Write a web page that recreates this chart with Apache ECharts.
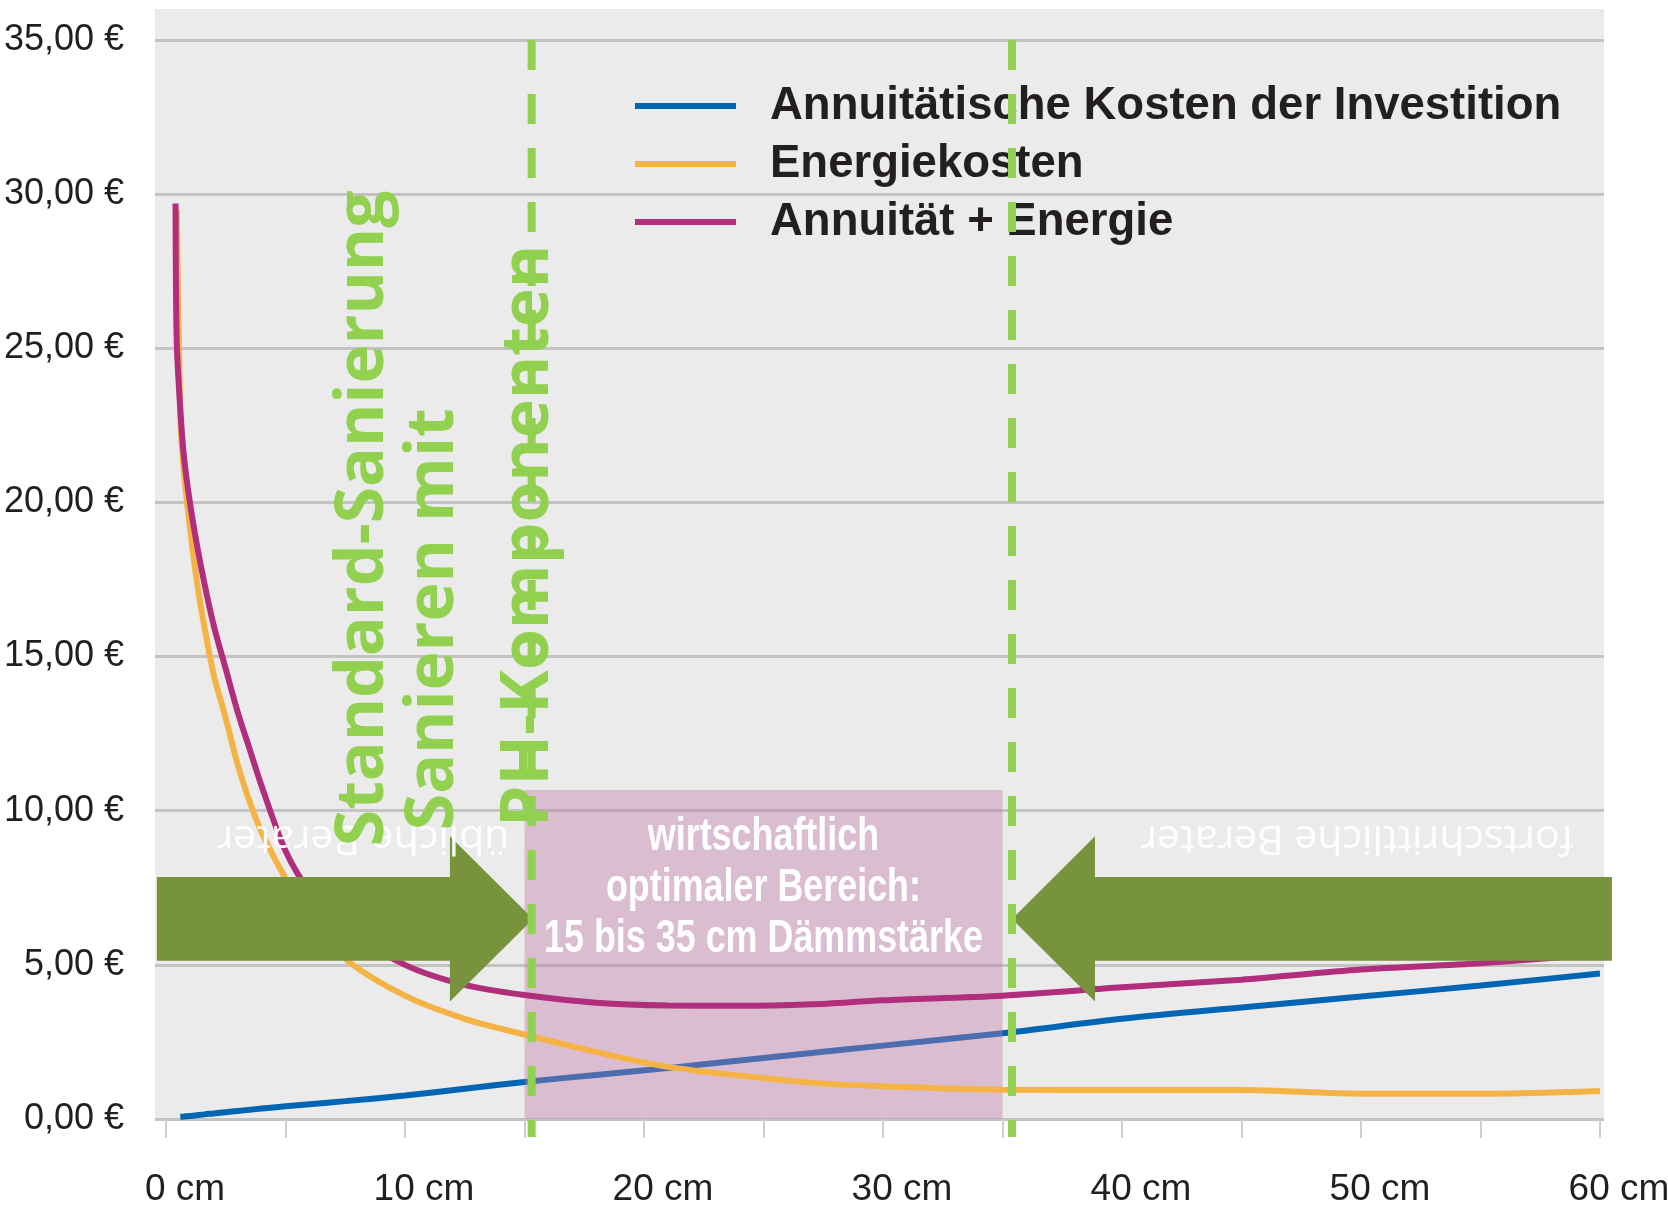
<!DOCTYPE html>
<html>
<head>
<meta charset="utf-8">
<title>Dämmstärke und Kosten</title>
<script src="https://cdn.jsdelivr.net/npm/echarts@6/dist/echarts.min.js"></script>
<style>
  html, body { margin: 0; padding: 0; background: #ffffff; }
  #chart { width: 1668px; height: 1211px; }
</style>
</head>
<body>
<div id="chart"></div>
<script>
// Dämmstärke in cm
var thickness = [0.4, 0.45, 0.6, 0.75, 1, 1.3, 1.6, 2, 2.5, 3, 3.5, 4, 5, 6, 7.5, 10, 12.5, 15, 18, 21, 24, 27, 30, 35, 40, 45, 50, 55, 60];
// Kosten in € (gelesen aus der Vorlage)
var annuitaet = [null, null, 0.07, 0.08, 0.1, 0.12, 0.15, 0.18, 0.22, 0.26, 0.3, 0.34, 0.41, 0.48, 0.58, 0.76, 0.98, 1.2, 1.43, 1.65, 1.9, 2.14, 2.38, 2.78, 3.25, 3.62, 3.97, 4.33, 4.72];
var energie = [null, 29.5, 22.8, 21.0, 19.2, 17.4, 16.0, 14.4, 13.0, 11.5, 10.3, 9.3, 7.8, 6.6, 5.2, 4.0, 3.25, 2.74, 2.17, 1.69, 1.41, 1.18, 1.06, 0.95, 0.94, 0.94, 0.82, 0.82, 0.91];
var summe = [29.7, 25.2, 23.0, 21.5, 20.0, 18.6, 17.4, 16.0, 14.6, 13.2, 12.0, 10.8, 8.7, 7.4, 6.2, 5.0, 4.35, 4.02, 3.77, 3.68, 3.67, 3.72, 3.85, 4.0, 4.27, 4.52, 4.85, 5.05, 5.35];

var seriesNames = ['Annuitätische Kosten der Investition', 'Energiekosten', 'Annuität + Energie'];
var xTicks = [0, 5, 10, 15, 20, 25, 30, 35, 40, 45, 50, 55, 60];
var xLabels = [0, 10, 20, 30, 40, 50, 60];
var optimum = [15, 35];        // wirtschaftlich optimaler Bereich, cm
var optimumTop = 10.67;        // € Höhe des Kastens
var markerLines = [15.3, 35.4];

var sans = '"Liberation Sans", Arial, sans-serif';

function pairs(vals) {
  var out = [];
  for (var i = 0; i < thickness.length; i++) {
    if (vals[i] != null) out.push([thickness[i], vals[i]]);
  }
  return out;
}

var chart = echarts.init(document.getElementById('chart'));

var option = {
  animation: false,
  backgroundColor: '#ffffff',
  grid: { left: 155, right: 64, top: 40, bottom: 92, containLabel: false, outerBoundsMode: 'none' },
  legend: {
    orient: 'vertical',
    left: 635,
    top: 83,
    padding: 0,
    itemWidth: 101,
    itemHeight: 6,
    itemGap: 12,
    icon: 'rect',
    data: seriesNames,
    textStyle: {
      fontFamily: sans,
      fontWeight: 'bold',
      fontSize: 45.5,
      lineHeight: 45,
      color: '#231f20',
      padding: [0, 0, 0, 29]
    }
  },
  xAxis: {
    type: 'value',
    min: -0.46,
    max: 60.17,
    axisLine: { show: false },
    splitLine: { show: false },
    axisTick: {
      show: true,
      customValues: xTicks,
      length: 19,
      lineStyle: { color: '#cfcfcf', width: 2 }
    },
    axisLabel: {
      customValues: xLabels,
      formatter: function (v) { return v + ' cm'; },
      fontFamily: sans,
      fontSize: 37,
      color: '#231f20',
      margin: 52,
      padding: [0, 0, 0, 38]
    }
  },
  yAxis: {
    type: 'value',
    min: 0,
    max: 35,
    interval: 5,
    axisLine: { show: false },
    axisTick: { show: false },
    splitLine: { lineStyle: { color: '#c3c3c3', width: 3 } },
    axisLabel: {
      formatter: function (v) { return v.toFixed(2).replace('.', ',') + ' €'; },
      fontFamily: sans,
      fontSize: 36,
      color: '#231f20',
      margin: 31
    }
  },
  series: [
    {
      name: seriesNames[0],
      type: 'line',
      z: 2,
      data: pairs(annuitaet),
      smooth: 0.3,
      symbol: 'none',
      lineStyle: { color: '#0066b3', width: 6 },
      itemStyle: { color: '#0066b3' },
      markArea: {
        z: 3,
        silent: true,
        itemStyle: { color: 'rgba(195,120,170,0.4)' },
        data: [[{ coord: [optimum[0], 0] }, { coord: [optimum[1], optimumTop] }]]
      }
    },
    {
      name: seriesNames[1],
      type: 'line',
      z: 4,
      data: pairs(energie),
      smooth: 0.3,
      symbol: 'none',
      lineStyle: { color: '#f5b346', width: 6 },
      itemStyle: { color: '#f5b346' }
    },
    {
      name: seriesNames[2],
      type: 'line',
      z: 4,
      data: pairs(summe),
      smooth: 0.3,
      symbol: 'none',
      lineStyle: { color: '#b12e7c', width: 6 },
      itemStyle: { color: '#b12e7c' }
    }
  ]
};

chart.setOption(option);

function px(x, y) { return chart.convertToPixel({ gridIndex: 0 }, [x, y]); }

// Pfeile in Datenkoordinaten (cm, €)
var arrowY = 6.49, shaftHalf = 1.36, headHalf = 2.68;
function arrow(tail, base, tip) {
  return [
    px(tail, arrowY + shaftHalf), px(base, arrowY + shaftHalf), px(base, arrowY + headHalf),
    px(tip, arrowY), px(base, arrowY - headHalf), px(base, arrowY - shaftHalf), px(tail, arrowY - shaftHalf)
  ];
}

var green = '#92d050';
var olive = '#77933c';
var graphics = [];

// grauer Hintergrund der Zeichenfläche
graphics.push({
  type: 'rect', z: -10, silent: true,
  shape: { x: 155, y: 9, width: 1449, height: 1110 },
  style: { fill: '#ebebeb' }
});

graphics.push({ type: 'polygon', z: 4.5, silent: true, shape: { points: arrow(-0.38, 11.88, 15.36) }, style: { fill: olive } });
graphics.push({ type: 'polygon', z: 4.5, silent: true, shape: { points: arrow(60.5, 38.87, 35.4) }, style: { fill: olive } });

markerLines.forEach(function (m) {
  var a = px(m, 35), b = px(m, -0.58);
  graphics.push({
    type: 'line', z: 6, silent: true,
    shape: { x1: a[0], y1: a[1], x2: b[0], y2: b[1] },
    style: { stroke: green, lineWidth: 8, lineDash: [30, 24] }
  });
});

// Kastentext (schmal gesetzt)
var c = px((optimum[0] + optimum[1]) / 2, 7.49);
graphics.push({
  type: 'text', z: 5, silent: true, x: c[0], y: c[1], scaleX: 0.78,
  style: {
    text: 'wirtschaftlich\noptimaler Bereich:\n15 bis 35 cm Dämmstärke',
    fill: '#ffffff', fontFamily: sans, fontWeight: 'bold', fontSize: 46, lineHeight: 51,
    align: 'center', verticalAlign: 'middle', textAlign: 'center', textVerticalAlign: 'middle'
  }
});

// auf dem Kopf stehende Texte
[['übliche Berater', 8.24], ['fortschrittliche Berater', 49.83]].forEach(function (t) {
  var p = px(t[1], 9.11);
  graphics.push({
    type: 'text', z: 5, silent: true, x: p[0], y: p[1], rotation: Math.PI,
    style: {
      text: t[0], fill: 'rgba(255,255,255,0.95)', fontFamily: '"Open Sans", sans-serif', fontSize: 41,
      align: 'center', verticalAlign: 'middle', textAlign: 'center', textVerticalAlign: 'middle'
    }
  });
});

// senkrechte grüne Beschriftung
[['Standard-Sanierung', 8.28, 8.85], ['Sanieren mit', 11.21, 9.37], ['PH-Komponenten', 15.19, 9.47]].forEach(function (t) {
  var p = px(t[1], t[2]);
  graphics.push({
    type: 'text', z: 7, silent: true, x: p[0], y: p[1], rotation: Math.PI / 2,
    style: {
      text: t[0], fill: green, fontFamily: '"Open Sans", sans-serif', fontWeight: 'bold', fontSize: 66,
      align: 'left', verticalAlign: 'middle', textAlign: 'left', textVerticalAlign: 'middle'
    }
  });
});

chart.setOption({ graphic: graphics });
</script>
</body>
</html>
